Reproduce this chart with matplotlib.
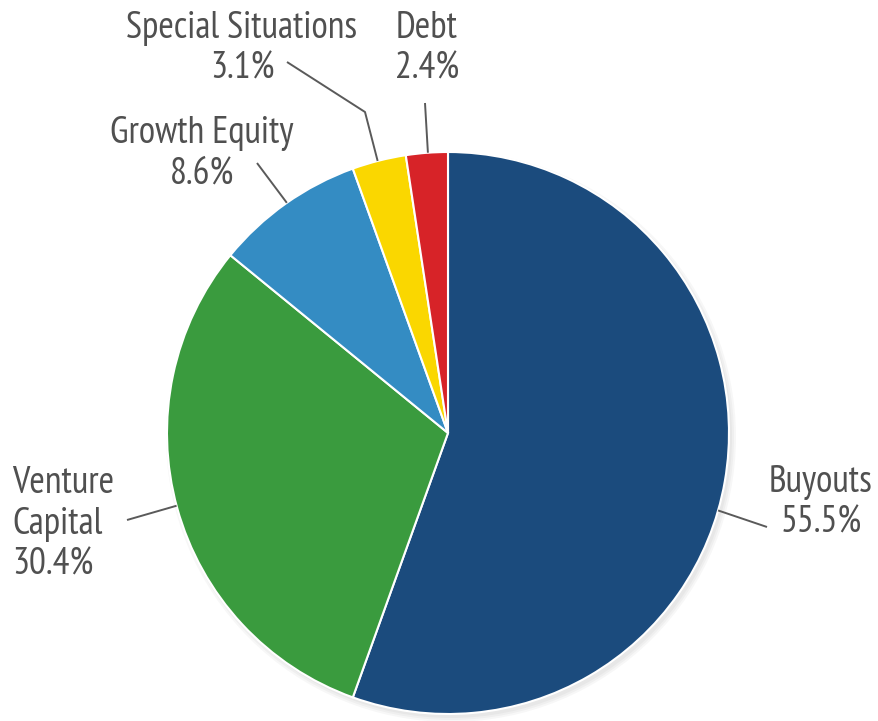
import numpy as np
import matplotlib
matplotlib.use('Agg')
import matplotlib.pyplot as plt
from matplotlib import font_manager

# ---------------------------------------------------------------
# DATEN
# ---------------------------------------------------------------
labels = ['Buyouts', 'Venture Capital', 'Growth Equity', 'Special Situations', 'Debt']
shares = [55.5, 30.4, 8.6, 3.1, 2.4]
label_texts = ['Buyouts\n55.5%', 'Venture\nCapital\n30.4%', 'Growth Equity\n8.6%',
               'Special Situations\n3.1%', 'Debt\n2.4%']

# ---------------------------------------------------------------
# DARSTELLUNG
# ---------------------------------------------------------------
COLORS = ['#1b4b7d', '#3a9b3e', '#348cc3', '#fad700', '#d72328']
TEXT_COLOR = '#505050'
LINE_COLOR = '#5a5a5a'
W, H = 879, 721
CX, CY, R = 448, H - 433, 281

names = {f.name for f in font_manager.fontManager.ttflist}
wanted = ['PT Sans Narrow', 'Fira Sans Condensed', 'Asap Condensed', 'Archivo Narrow',
          'Barlow Semi Condensed']
FAMILY = [n for n in wanted if n in names][:1] + ['DejaVu Sans']
plt.rcParams['font.family'] = FAMILY

fig = plt.figure(figsize=(W / 100, H / 100), dpi=100)
ax = fig.add_axes([0, 0, 1, 1])

# leichter Schatten
for k in range(3):
    ax.add_patch(plt.Circle((CX + 3, CY - 4), R + 4 - k * 2, color='black', alpha=0.03, lw=0))

wedges, _ = ax.pie(shares, colors=COLORS, startangle=90, counterclock=False,
                   center=(CX, CY), radius=R, frame=True,
                   wedgeprops=dict(edgecolor='white', linewidth=1.5))
ax.set_xlim(0, W)
ax.set_ylim(0, H)
ax.set_aspect('equal')
ax.axis('off')

# Beschriftung: (Winkel am Rand, Knickpunkt, Linienende, Textposition, ha)
layout = [
    (-16, None, (767, 527), (821, 503), 'center'),
    (195, None, (127, 520), (12, 524), 'left'),
    (125, None, (257, 163), (202, 154), 'center'),
    (104.5, (365, 112), (287, 62), (242, 49), 'center'),
    (94.1, None, (425, 103), (427, 49), 'center'),
]

for txt, (ang, knick, end, pos, ha) in zip(label_texts, layout):
    t = np.deg2rad(ang)
    sx, sy = CX + R * np.cos(t), CY + R * np.sin(t)
    pts = [(sx, sy)]
    if knick is not None:
        pts.append((knick[0], H - knick[1]))
    pts.append((end[0], H - end[1]))
    xs, ys = zip(*pts)
    ax.plot(xs, ys, color=LINE_COLOR, lw=1.4, solid_capstyle='butt')
    ax.text(pos[0], H - pos[1], txt, ha=ha, va='center', fontsize=27,
            color=TEXT_COLOR, linespacing=1.22, multialignment=ha if ha == 'left' else 'center')

fig.savefig('out.png', dpi=100)
